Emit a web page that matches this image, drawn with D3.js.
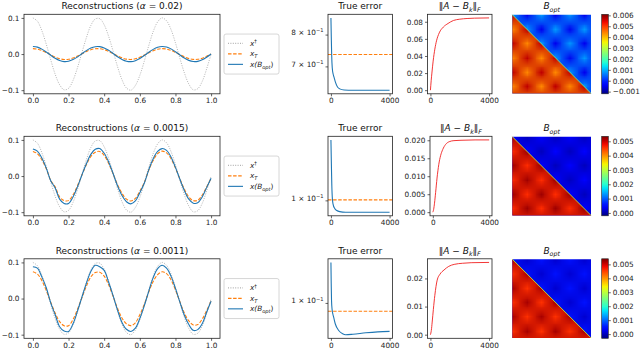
<!DOCTYPE html>
<html>
<head>
<meta charset="utf-8">
<script src="https://cdn.jsdelivr.net/npm/d3@7"></script>
<style>
body { margin: 0; background: #fff; }
svg { display: block; font-family: "DejaVu Sans", sans-serif; }
</style>
</head>
<body>
<svg id="fig" width="640" height="351"></svg>
<script>
// ---- data ----
var alphas = ["0.02", "0.0015", "0.0011"];

// reconstructions, sampled on t = 0, 0.025, ..., 1.0
var xDagger = [0.100,0.091,0.065,0.027,-0.016,-0.056,-0.085,-0.099,-0.095,-0.073,-0.038,0.004,0.045,0.079,0.097,0.098,0.081,0.049,0.008,-0.035,-0.071,-0.094,-0.100,-0.087,-0.059,-0.020,0.023,0.062,0.089,0.100,0.092,0.068,0.031,-0.012,-0.052,-0.083,-0.099,-0.096,-0.076,-0.041,0.000];
var xT_1 = [0.0150,0.0136,0.0097,0.0041,-0.0024,-0.0084,-0.0128,-0.0149,-0.0143,-0.0110,-0.0057,0.0006,0.0068,0.0119,0.0146,0.0146,0.0121,0.0074,0.0012,-0.0053,-0.0106,-0.0141,-0.0150,-0.0131,-0.0088,-0.0029,0.0035,0.0092,0.0134,0.0150,0.0139,0.0102,0.0046,-0.0018,-0.0078,-0.0125,-0.0148,-0.0144,-0.0114,-0.0062,0.0];
var xB_1 = [0.0210,0.0191,0.0136,0.0057,-0.0033,-0.0117,-0.0179,-0.0209,-0.0200,-0.0154,-0.0080,0.0008,0.0095,0.0166,0.0204,0.0205,0.0170,0.0104,0.0016,-0.0074,-0.0148,-0.0197,-0.0210,-0.0183,-0.0123,-0.0041,0.0049,0.0129,0.0187,0.0210,0.0194,0.0143,0.0065,-0.0025,-0.0110,-0.0175,-0.0207,-0.0202,-0.0160,-0.0087,0.0];
var xT_2 = [0.068,0.062,0.045,0.020,-0.012,-0.030,-0.058,-0.068,-0.068,-0.052,-0.027,0.003,0.031,0.054,0.066,0.068,0.057,0.035,0.006,-0.024,-0.048,-0.064,-0.069,-0.062,-0.042,-0.018,0.016,0.043,0.062,0.069,0.064,0.048,0.022,-0.008,-0.036,-0.058,-0.068,-0.067,-0.053,-0.030,-0.006];
var xB_2 = [0.075,0.069,0.050,0.022,-0.013,-0.033,-0.064,-0.076,-0.076,-0.058,-0.030,0.003,0.034,0.060,0.074,0.076,0.063,0.039,0.007,-0.027,-0.054,-0.071,-0.077,-0.069,-0.046,-0.020,0.017,0.048,0.068,0.076,0.071,0.053,0.024,-0.009,-0.040,-0.064,-0.075,-0.074,-0.058,-0.032,-0.006];
var xT_3 = [0.074,0.068,0.050,0.022,-0.010,-0.040,-0.064,-0.075,-0.075,-0.058,-0.030,0.002,0.034,0.060,0.072,0.073,0.062,0.038,0.006,-0.027,-0.054,-0.070,-0.075,-0.067,-0.045,-0.016,0.018,0.047,0.066,0.074,0.069,0.052,0.024,-0.009,-0.040,-0.062,-0.073,-0.072,-0.057,-0.033,-0.007];
var xB_3 = [0.088,0.084,0.060,0.030,-0.012,-0.045,-0.078,-0.090,-0.091,-0.070,-0.035,0.004,0.042,0.075,0.092,0.088,0.078,0.045,0.008,-0.032,-0.066,-0.085,-0.091,-0.082,-0.055,-0.020,0.020,0.058,0.083,0.092,0.084,0.062,0.028,-0.010,-0.046,-0.072,-0.088,-0.086,-0.070,-0.038,-0.007];

// true error (log scale) vs iteration
var errIt_1 = [0, 25, 50, 90, 150, 220, 300, 450, 600, 900, 1500, 2500, 4000];
var err_1 = [0.858, 0.79, 0.735, 0.696, 0.678, 0.668, 0.656, 0.642, 0.637, 0.634, 0.6335, 0.6335, 0.6335];
var errIt_2 = [0, 30, 60, 100, 150, 250, 400, 600, 1000, 2000, 4000];
var err_2 = [0.1259, 0.115, 0.106, 0.1005, 0.0985, 0.0970, 0.0962, 0.0958, 0.0956, 0.0956, 0.0956];
var errIt_3 = [0, 20, 40, 80, 130, 185, 300, 530, 800, 1000, 1500, 2380, 3200, 4000];
var err_3 = [0.1097, 0.1045, 0.1006, 0.0985, 0.0975, 0.0968, 0.0953, 0.0939, 0.0932, 0.0930, 0.0931, 0.0934, 0.0936, 0.0937];
var errRef = [0.736, 0.1002, 0.0981];

// ||A - B_k||_F vs iteration
var normIt_1 = [0, 50, 100, 185, 300, 415, 600, 880, 1200, 1570, 2000, 2500, 3000, 4000];
var norm_1 = [0, 0.011, 0.020, 0.034, 0.048, 0.0577, 0.067, 0.0738, 0.078, 0.0815, 0.083, 0.0838, 0.0842, 0.0845];
var normIt_2 = [0, 60, 120, 200, 300, 420, 550, 700, 900, 1160, 1500, 2000, 3000, 4000];
var norm_2 = [0, 0.0008, 0.0025, 0.0055, 0.0095, 0.0132, 0.0157, 0.0174, 0.0188, 0.0196, 0.0199, 0.0200, 0.0201, 0.0201];
var normIt_3 = [0, 60, 120, 200, 300, 460, 650, 925, 1250, 1620, 2200, 2780, 4000];
var norm_3 = [0, 0.0015, 0.0045, 0.0090, 0.0140, 0.0194, 0.0215, 0.0230, 0.0243, 0.0250, 0.0254, 0.0256, 0.0257];

// B_opt, coarse samples (units of 1e-4), lower-left and upper-right triangles
var lower_1 = [
  [57,44,57,44,57,44,57],[44,57,44,57,44,57,44],[57,44,57,44,57,44,57],[44,57,44,57,44,57,44],
  [57,44,57,44,57,44,57],[44,57,44,57,44,57,44],[57,44,57,44,57,44,57]];
var upper_1 = [
  [8,-5,8,-5,8,-5,8],[-5,8,-5,8,-5,8,-5],[8,-5,8,-5,8,-5,8],[-5,8,-5,8,-5,8,-5],
  [8,-5,8,-5,8,-5,8],[-5,8,-5,8,-5,8,-5],[8,-5,8,-5,8,-5,8]];
var lower_2 = [
  [52,46,52,46,52,46,52],[46,52,46,52,46,52,46],[52,46,52,46,52,46,52],[46,52,46,52,46,52,46],
  [52,46,52,46,52,46,52],[46,52,46,52,46,52,46],[52,46,52,46,52,46,52]];
var upper_2 = [
  [5,1,5,1,5,1,5],[1,5,1,5,1,5,1],[5,1,5,1,5,1,5],[1,5,1,5,1,5,1],
  [5,1,5,1,5,1,5],[1,5,1,5,1,5,1],[5,1,5,1,5,1,5]];
var lower_3 = lower_2;
var upper_3 = upper_2;
var diagVal = [24, 32, 32];
var cbDomain = [[-12, 61], [-2, 53.5], [-3, 54]];
var cbTicks_1 = [-0.001, 0, 0.001, 0.002, 0.003, 0.004, 0.005, 0.006];
var cbTicks_2 = [0, 0.001, 0.002, 0.003, 0.004, 0.005];

var normTicks = [[0, 0.02, 0.04, 0.06, 0.08], [0, 0.005, 0.01, 0.015, 0.02], [0, 0.01, 0.02]];
var normFmt = [".2f", ".3f", ".2f"];
var errTicks = [[0.7, 0.8], [0.1], [0.1]];
var errTickText = [["7", "8"], ["1"], ["1"]];

// ---- layout ----
var svg = d3.select("#fig");
var rowTop = [14.3, 136.3, 258.8], axH = 79.5;
var recL = 24, recR = 220;
var errL = 328, errR = 392.5;
var normL = [427.5, 430, 427.5], normR = 492;
var hmL = 512.3, hmS = 78.7;
var cbL = 601.7, cbW = 6.6;
var tickFs = 7.3, titleFs = 9;

var tGrid = d3.range(41).map(function (i) { return i * 0.025; });

var jetR = d3.scaleLinear().domain([0, 0.35, 0.66, 0.89, 1]).range([0, 0, 1, 1, 0.5]).clamp(true);
var jetG = d3.scaleLinear().domain([0, 0.125, 0.375, 0.64, 0.91, 1]).range([0, 0, 1, 1, 0, 0]).clamp(true);
var jetB = d3.scaleLinear().domain([0, 0.11, 0.34, 0.65, 1]).range([0.5, 1, 1, 0, 0]).clamp(true);
function jet(t) { return d3.rgb(255 * jetR(t), 255 * jetG(t), 255 * jetB(t)); }

function rich(sel, parts, fs) {
    var cur = 0;
    parts.forEach(function (p) {
        var shift = p.sup ? -0.38 * fs : (p.sub ? 0.25 * fs : 0);
        sel.append("tspan")
            .attr("dy", shift - cur)
            .style("font-size", ((p.sup || p.sub) ? 0.7 * fs : fs) + "px")
            .style("font-style", p.i ? "italic" : "normal")
            .text(p.t);
        cur = shift;
    });
}

function styleAxis(g) {
    g.attr("font-size", null).attr("font-family", null);
    g.select(".domain").remove();
    g.selectAll(".tick line").attr("stroke", "#222").attr("stroke-width", 0.7);
    g.selectAll(".tick text").attr("fill", "#222").style("font-size", tickFs + "px");
}

function frame(x0, y0, w, h) {
    svg.append("rect").attr("x", x0).attr("y", y0).attr("width", w).attr("height", h)
        .attr("fill", "none").attr("stroke", "#222").attr("stroke-width", 0.8);
}

function title(x, y, parts) {
    var t = svg.append("text").attr("x", x).attr("y", y).attr("text-anchor", "middle")
        .attr("fill", "#111").style("font-size", titleFs + "px");
    rich(t, parts, titleFs);
}

var rows = [
    {xT: xT_1, xB: xB_1, errIt: errIt_1, err: err_1, normIt: normIt_1, norm: norm_1, lower: lower_1, upper: upper_1, cbTicks: cbTicks_1},
    {xT: xT_2, xB: xB_2, errIt: errIt_2, err: err_2, normIt: normIt_2, norm: norm_2, lower: lower_2, upper: upper_2, cbTicks: cbTicks_2},
    {xT: xT_3, xB: xB_3, errIt: errIt_3, err: err_3, normIt: normIt_3, norm: norm_3, lower: lower_3, upper: upper_3, cbTicks: cbTicks_2}
];

rows.forEach(function (row, r) {
    var top = rowTop[r], bot = top + axH, mid = top + axH / 2;

    // ---- reconstructions ----
    var x = d3.scaleLinear().domain([-0.05, 1.05]).range([recL, recR]);
    var y = d3.scaleLinear().domain([-0.11, 0.11]).range([bot, top]);
    var g = svg.append("g");
    var line = d3.line().x(function (d, i) { return x(tGrid[i]); }).y(function (d) { return y(d); })
        .curve(d3.curveCatmullRom.alpha(0.5));
    g.append("path").attr("d", line(xDagger)).attr("fill", "none").attr("stroke", "#b3b3b3")
        .attr("stroke-width", 1).attr("stroke-dasharray", "1,1.4");
    g.append("path").attr("d", line(row.xT)).attr("fill", "none").attr("stroke", "#ff7f0e")
        .attr("stroke-width", 1.1).attr("stroke-dasharray", "3.5,1.6");
    g.append("path").attr("d", line(row.xB)).attr("fill", "none").attr("stroke", "#1f77b4")
        .attr("stroke-width", 1.1);
    frame(recL, top, recR - recL, axH);
    svg.append("g").attr("transform", "translate(0," + bot + ")")
        .call(d3.axisBottom(x).tickValues([0, 0.2, 0.4, 0.6, 0.8, 1.0]).tickFormat(d3.format(".1f")).tickSize(2.5).tickPadding(1.8))
        .call(styleAxis);
    svg.append("g").attr("transform", "translate(" + recL + ",0)")
        .call(d3.axisLeft(y).tickValues([-0.1, 0, 0.1]).tickFormat(d3.format(".1f")).tickSize(2.5).tickPadding(2))
        .call(styleAxis);
    title((recL + recR) / 2, top - 5, [{t: "Reconstructions ("}, {t: "α", i: true}, {t: " = " + alphas[r] + ")"}]);

    // legend
    var lg = svg.append("g").attr("transform", "translate(224," + (mid - 20) + ")");
    lg.append("rect").attr("width", 55).attr("height", 40).attr("rx", 2)
        .attr("fill", "#fff").attr("fill-opacity", 0.8).attr("stroke", "#ccc").attr("stroke-width", 0.8);
    var items = [
        {stroke: "#b3b3b3", dash: "1,1.4", parts: [{t: "x", i: true}, {t: "†", sup: true}]},
        {stroke: "#ff7f0e", dash: "3.5,1.6", parts: [{t: "x", i: true}, {t: "T", i: true, sub: true}]},
        {stroke: "#1f77b4", dash: null, parts: [{t: "x(", i: true}, {t: "B", i: true}, {t: "opt", i: true, sub: true}, {t: ")"}]}
    ];
    items.forEach(function (it, k) {
        var cy = 9.3 + k * 10.5;
        lg.append("line").attr("x1", 4).attr("x2", 19).attr("y1", cy).attr("y2", cy)
            .attr("stroke", it.stroke).attr("stroke-width", 1.1).attr("stroke-dasharray", it.dash);
        var t = lg.append("text").attr("x", 26).attr("y", cy + 2.6).attr("fill", "#222").style("font-size", tickFs + "px");
        rich(t, it.parts, tickFs);
    });

    // ---- true error ----
    var ex = d3.scaleLinear().domain([-200, 4200]).range([errL, errR]);
    var lext = d3.extent(row.err).map(Math.log10);
    var pad = (lext[1] - lext[0]) * 0.05;
    var ey = d3.scaleLog().domain([Math.pow(10, lext[0] - pad), Math.pow(10, lext[1] + pad)]).range([bot, top]);
    svg.append("line").attr("x1", errL).attr("x2", errR).attr("y1", ey(errRef[r])).attr("y2", ey(errRef[r]))
        .attr("stroke", "#ff7f0e").attr("stroke-width", 1.1).attr("stroke-dasharray", "3.5,1.6");
    var eline = d3.line().x(function (d, i) { return ex(row.errIt[i]); }).y(function (d) { return ey(d); })
        .curve(d3.curveMonotoneX);
    svg.append("path").attr("d", eline(row.err)).attr("fill", "none").attr("stroke", "#1f77b4").attr("stroke-width", 1.1);
    frame(errL, top, errR - errL, axH);
    svg.append("g").attr("transform", "translate(0," + bot + ")")
        .call(d3.axisBottom(ex).tickValues([0, 4000]).tickFormat(d3.format("d")).tickSize(2.5).tickPadding(1.8))
        .call(styleAxis);
    var ea = svg.append("g").attr("transform", "translate(" + errL + ",0)")
        .call(d3.axisLeft(ey).tickValues(errTicks[r]).tickSize(2.5).tickPadding(2))
        .call(styleAxis);
    ea.selectAll(".tick text").text(null).each(function (d, i) {
        rich(d3.select(this), [{t: errTickText[r][i] + " × 10"}, {t: "−1", sup: true}], tickFs);
    });
    title((errL + errR) / 2, top - 5, [{t: "True error"}]);

    // ---- norm ----
    var nx = d3.scaleLinear().domain([-200, 4200]).range([normL[r], normR]);
    var nmax = d3.max(row.norm);
    var ny = d3.scaleLinear().domain([-nmax * 0.05, nmax * 1.05]).range([bot, top]);
    var nline = d3.line().x(function (d, i) { return nx(row.normIt[i]); }).y(function (d) { return ny(d); })
        .curve(d3.curveMonotoneX);
    svg.append("path").attr("d", nline(row.norm)).attr("fill", "none").attr("stroke", "#f02020").attr("stroke-width", 0.9);
    frame(normL[r], top, normR - normL[r], axH);
    svg.append("g").attr("transform", "translate(0," + bot + ")")
        .call(d3.axisBottom(nx).tickValues([0, 4000]).tickFormat(d3.format("d")).tickSize(2.5).tickPadding(1.8))
        .call(styleAxis);
    svg.append("g").attr("transform", "translate(" + normL[r] + ",0)")
        .call(d3.axisLeft(ny).tickValues(normTicks[r]).tickFormat(d3.format(normFmt[r])).tickSize(2.5).tickPadding(2))
        .call(styleAxis);
    title((normL[r] + normR) / 2, top - 5, [{t: "‖"}, {t: "A", i: true}, {t: " − "}, {t: "B", i: true}, {t: "k", i: true, sub: true}, {t: "‖"}, {t: "F", i: true, sub: true}]);

    // ---- B_opt heatmap ----
    var c = d3.scaleLinear().domain(cbDomain[r]).range([0, 1]);
    var hTop = mid - hmS / 2, hBot = hTop + hmS, hR = hmL + hmS;
    var cell = hmS * 0.1818;
    function gridImage(grid) {
        var n = grid.length;
        var cv = document.createElement("canvas");
        cv.width = n; cv.height = n;
        var ctx = cv.getContext("2d"), img = ctx.createImageData(n, n);
        grid.forEach(function (rw, i) {
            rw.forEach(function (v, j) {
                var col = jet(c(v)), k = 4 * (i * n + j);
                img.data[k] = col.r; img.data[k + 1] = col.g; img.data[k + 2] = col.b; img.data[k + 3] = 255;
            });
        });
        ctx.putImageData(img, 0, 0);
        return cv.toDataURL();
    }
    var defs = svg.append("defs");
    defs.append("clipPath").attr("id", "sq" + r).append("rect")
        .attr("x", hmL).attr("y", hTop).attr("width", hmS).attr("height", hmS);
    defs.append("clipPath").attr("id", "lo" + r).append("polygon")
        .attr("points", [[hmL, hTop], [hmL, hBot], [hR, hBot]].join(" "));
    [[row.upper, "sq"], [row.lower, "lo"]].forEach(function (p) {
        svg.append("g").attr("clip-path", "url(#" + p[1] + r + ")")
            .append("image").attr("href", gridImage(p[0]))
            .attr("x", hmL - cell / 2).attr("y", hTop - cell / 2)
            .attr("width", cell * p[0].length).attr("height", cell * p[0].length)
            .attr("preserveAspectRatio", "none");
    });
    svg.append("line").attr("x1", hmL).attr("y1", hTop).attr("x2", hR).attr("y2", hBot)
        .attr("stroke", jet(c(diagVal[r]))).attr("stroke-width", 0.8);
    title(hmL + hmS / 2, top - 5, [{t: "B", i: true}, {t: "opt", i: true, sub: true}]);

    // colorbar
    var gid = "cbg" + r;
    var grad = defs.append("linearGradient").attr("id", gid).attr("x1", 0).attr("y1", 1).attr("x2", 0).attr("y2", 0);
    d3.range(0, 1.0001, 0.05).forEach(function (o) {
        grad.append("stop").attr("offset", o).attr("stop-color", jet(o));
    });
    svg.append("rect").attr("x", cbL).attr("y", top).attr("width", cbW).attr("height", axH)
        .attr("fill", "url(#" + gid + ")").attr("stroke", "#222").attr("stroke-width", 0.6);
    var cy = d3.scaleLinear().domain(cbDomain[r].map(function (v) { return v * 1e-4; })).range([bot, top]);
    svg.append("g").attr("transform", "translate(" + (cbL + cbW) + ",0)")
        .call(d3.axisRight(cy).tickValues(row.cbTicks).tickFormat(d3.format(".3f")).tickSize(2.5).tickPadding(2))
        .call(styleAxis);
});
</script>
</body>
</html>
